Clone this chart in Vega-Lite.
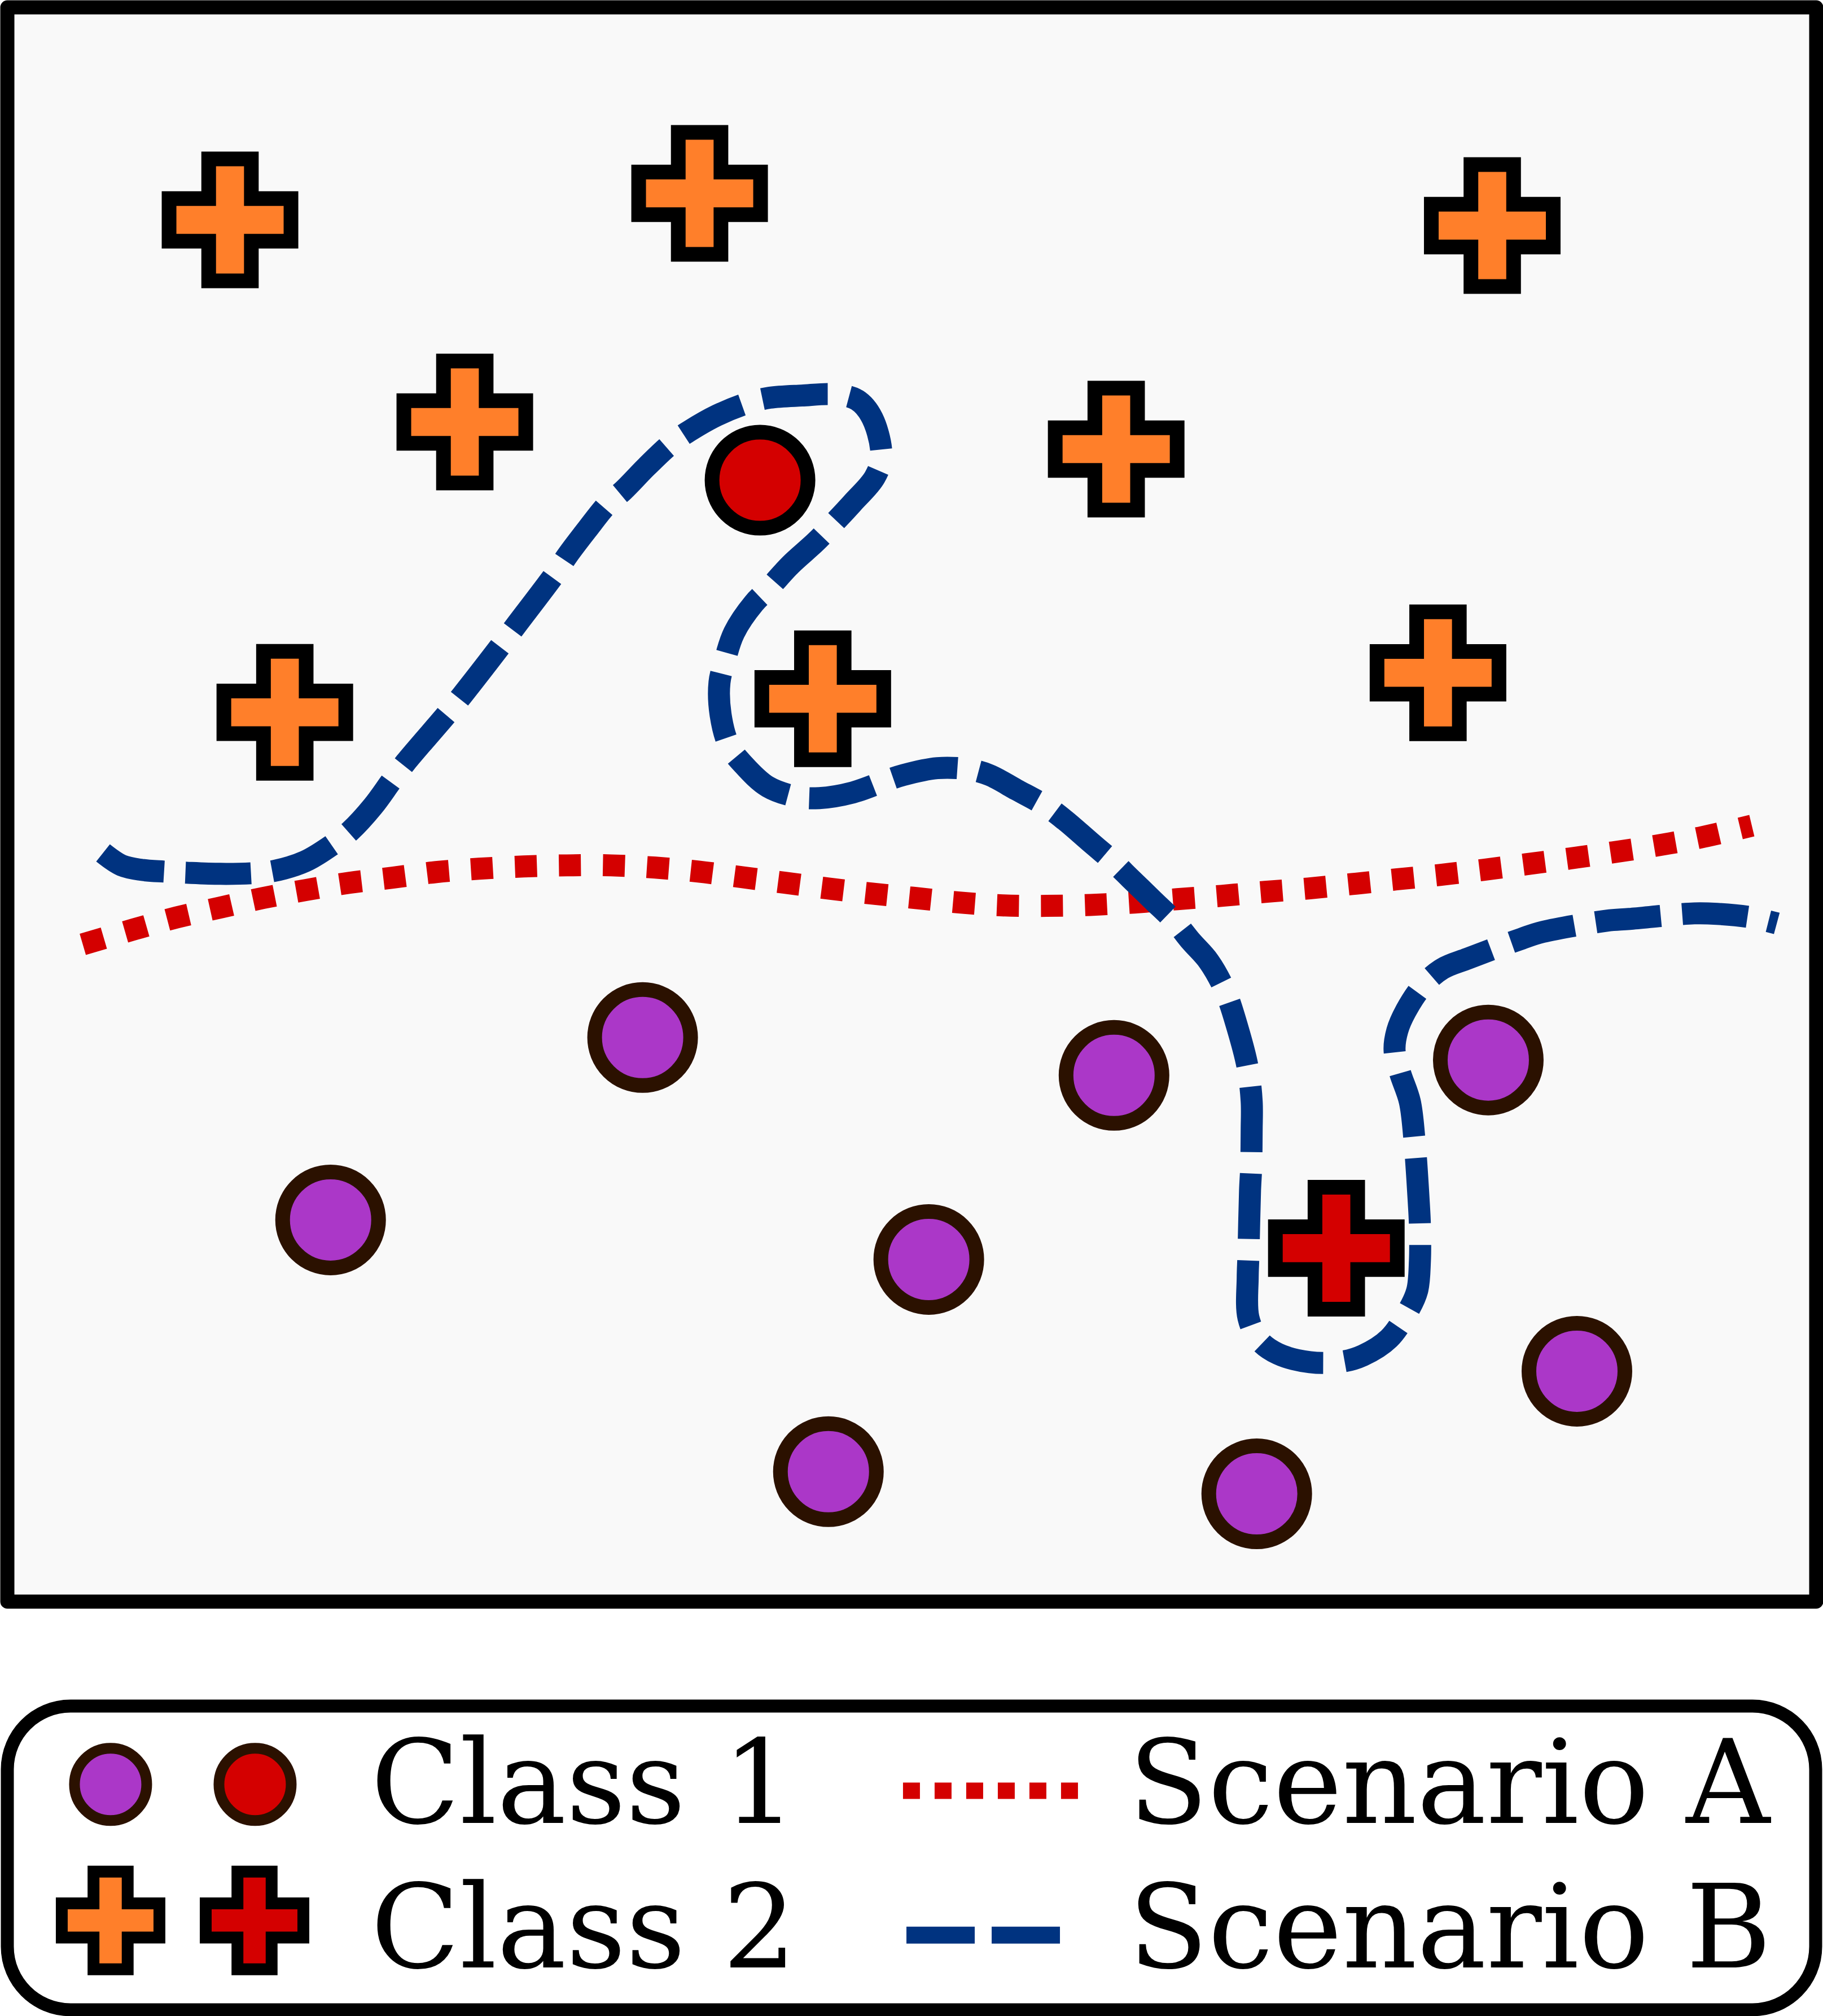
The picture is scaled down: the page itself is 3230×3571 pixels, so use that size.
{
  "$schema": "https://vega.github.io/schema/vega-lite/v6.json",
  "background": "#ffffff",
  "padding": 0,
  "spacing": 160,
  "resolve": {"scale": {"x": "independent", "y": "independent", "fill": "independent", "stroke": "independent"}},
  "datasets": {
    "points": [
      {"cls": "Class 2", "status": "regular", "x": 1.231, "y": 8.667},
      {"cls": "Class 2", "status": "regular", "x": 3.827, "y": 8.833},
      {"cls": "Class 2", "status": "regular", "x": 8.209, "y": 8.631},
      {"cls": "Class 2", "status": "regular", "x": 2.529, "y": 7.399},
      {"cls": "Class 2", "status": "regular", "x": 6.130, "y": 7.229},
      {"cls": "Class 2", "status": "regular", "x": 1.534, "y": 5.578},
      {"cls": "Class 2", "status": "regular", "x": 4.508, "y": 5.663},
      {"cls": "Class 2", "status": "regular", "x": 7.909, "y": 5.826},
      {"cls": "Class 2", "status": "outlier", "x": 7.347, "y": 2.217},
      {"cls": "Class 1", "status": "regular", "x": 3.512, "y": 3.538},
      {"cls": "Class 1", "status": "regular", "x": 6.118, "y": 3.301},
      {"cls": "Class 1", "status": "regular", "x": 8.187, "y": 3.397},
      {"cls": "Class 1", "status": "regular", "x": 1.787, "y": 2.394},
      {"cls": "Class 1", "status": "regular", "x": 5.094, "y": 2.146},
      {"cls": "Class 1", "status": "regular", "x": 8.677, "y": 1.445},
      {"cls": "Class 1", "status": "regular", "x": 4.539, "y": 0.815},
      {"cls": "Class 1", "status": "regular", "x": 6.907, "y": 0.676},
      {"cls": "Class 1", "status": "outlier", "x": 4.161, "y": 7.034}
    ],
    "scenarioA": [
      {"i": 0, "x": 0.417, "y": 4.123}, {"i": 1, "x": 0.704, "y": 4.218}, {"i": 2, "x": 0.938, "y": 4.292},
      {"i": 3, "x": 1.175, "y": 4.353}, {"i": 4, "x": 1.412, "y": 4.413}, {"i": 5, "x": 1.649, "y": 4.463},
      {"i": 6, "x": 1.890, "y": 4.509}, {"i": 7, "x": 2.130, "y": 4.541}, {"i": 8, "x": 2.370, "y": 4.576},
      {"i": 9, "x": 2.607, "y": 4.597}, {"i": 10, "x": 2.854, "y": 4.611}, {"i": 11, "x": 3.094, "y": 4.618},
      {"i": 12, "x": 3.337, "y": 4.618}, {"i": 13, "x": 3.581, "y": 4.604}, {"i": 14, "x": 3.821, "y": 4.579},
      {"i": 15, "x": 4.061, "y": 4.544}, {"i": 16, "x": 4.299, "y": 4.509}, {"i": 17, "x": 4.539, "y": 4.473},
      {"i": 18, "x": 4.782, "y": 4.441}, {"i": 19, "x": 5.023, "y": 4.413}, {"i": 20, "x": 5.263, "y": 4.385},
      {"i": 21, "x": 5.503, "y": 4.367}, {"i": 22, "x": 5.744, "y": 4.364}, {"i": 23, "x": 5.987, "y": 4.370},
      {"i": 24, "x": 6.230, "y": 4.385}, {"i": 25, "x": 6.467, "y": 4.406}, {"i": 26, "x": 6.711, "y": 4.427},
      {"i": 27, "x": 6.954, "y": 4.452}, {"i": 28, "x": 7.191, "y": 4.473}, {"i": 29, "x": 7.435, "y": 4.501},
      {"i": 30, "x": 7.678, "y": 4.530}, {"i": 31, "x": 7.919, "y": 4.558}, {"i": 32, "x": 8.159, "y": 4.590},
      {"i": 33, "x": 8.396, "y": 4.625}, {"i": 34, "x": 8.636, "y": 4.661}, {"i": 35, "x": 8.877, "y": 4.700},
      {"i": 36, "x": 9.117, "y": 4.742}, {"i": 37, "x": 9.357, "y": 4.792}, {"i": 38, "x": 9.644, "y": 4.867}
    ],
    "scenarioB": [
      {"i": 0, "x": 0.529, "y": 4.696}, {"i": 1, "x": 0.632, "y": 4.618}, {"i": 2, "x": 0.741, "y": 4.590},
      {"i": 3, "x": 0.869, "y": 4.579}, {"i": 4, "x": 0.991, "y": 4.572}, {"i": 5, "x": 1.178, "y": 4.565},
      {"i": 6, "x": 1.356, "y": 4.569}, {"i": 7, "x": 1.474, "y": 4.583}, {"i": 8, "x": 1.646, "y": 4.643},
      {"i": 9, "x": 1.799, "y": 4.749}, {"i": 10, "x": 1.896, "y": 4.834}, {"i": 11, "x": 2.020, "y": 4.987},
      {"i": 12, "x": 2.127, "y": 5.153}, {"i": 13, "x": 2.201, "y": 5.263}, {"i": 14, "x": 2.436, "y": 5.575},
      {"i": 15, "x": 2.514, "y": 5.684}, {"i": 16, "x": 2.735, "y": 6.007}, {"i": 17, "x": 2.810, "y": 6.120},
      {"i": 18, "x": 3.029, "y": 6.449}, {"i": 19, "x": 3.097, "y": 6.563}, {"i": 20, "x": 3.206, "y": 6.726},
      {"i": 21, "x": 3.319, "y": 6.885}, {"i": 22, "x": 3.406, "y": 6.970}, {"i": 23, "x": 3.534, "y": 7.119},
      {"i": 24, "x": 3.671, "y": 7.264}, {"i": 25, "x": 3.774, "y": 7.345}, {"i": 26, "x": 3.924, "y": 7.441},
      {"i": 27, "x": 4.096, "y": 7.519}, {"i": 28, "x": 4.214, "y": 7.551}, {"i": 29, "x": 4.392, "y": 7.565},
      {"i": 30, "x": 4.577, "y": 7.572}, {"i": 31, "x": 4.698, "y": 7.537}, {"i": 32, "x": 4.782, "y": 7.423},
      {"i": 33, "x": 4.832, "y": 7.183}, {"i": 34, "x": 4.795, "y": 7.052}, {"i": 35, "x": 4.673, "y": 6.892},
      {"i": 36, "x": 4.554, "y": 6.747}, {"i": 37, "x": 4.470, "y": 6.648}, {"i": 38, "x": 4.329, "y": 6.503},
      {"i": 39, "x": 4.211, "y": 6.357}, {"i": 40, "x": 4.127, "y": 6.262}, {"i": 41, "x": 4.018, "y": 6.078},
      {"i": 42, "x": 3.965, "y": 5.897}, {"i": 43, "x": 3.937, "y": 5.766}, {"i": 44, "x": 3.943, "y": 5.564},
      {"i": 45, "x": 3.990, "y": 5.369}, {"i": 46, "x": 4.068, "y": 5.252}, {"i": 47, "x": 4.205, "y": 5.111},
      {"i": 48, "x": 4.371, "y": 5.047}, {"i": 49, "x": 4.489, "y": 5.040}, {"i": 50, "x": 4.673, "y": 5.075},
      {"i": 51, "x": 4.842, "y": 5.143}, {"i": 52, "x": 4.954, "y": 5.185}, {"i": 53, "x": 5.141, "y": 5.228},
      {"i": 54, "x": 5.310, "y": 5.221}, {"i": 55, "x": 5.428, "y": 5.185}, {"i": 56, "x": 5.578, "y": 5.093},
      {"i": 57, "x": 5.746, "y": 4.987}, {"i": 58, "x": 5.846, "y": 4.902}, {"i": 59, "x": 5.984, "y": 4.767},
      {"i": 60, "x": 6.118, "y": 4.636}, {"i": 61, "x": 6.205, "y": 4.540}, {"i": 62, "x": 6.333, "y": 4.399},
      {"i": 63, "x": 6.461, "y": 4.257}, {"i": 64, "x": 6.542, "y": 4.144}, {"i": 65, "x": 6.642, "y": 4.016},
      {"i": 66, "x": 6.733, "y": 3.829}, {"i": 67, "x": 6.801, "y": 3.598}, {"i": 68, "x": 6.857, "y": 3.350},
      {"i": 69, "x": 6.879, "y": 3.138}, {"i": 70, "x": 6.879, "y": 2.961}, {"i": 71, "x": 6.876, "y": 2.720},
      {"i": 72, "x": 6.870, "y": 2.582}, {"i": 73, "x": 6.861, "y": 2.171}, {"i": 74, "x": 6.857, "y": 2.033},
      {"i": 75, "x": 6.861, "y": 1.781}, {"i": 76, "x": 6.920, "y": 1.640}, {"i": 77, "x": 7.023, "y": 1.555},
      {"i": 78, "x": 7.201, "y": 1.502}, {"i": 79, "x": 7.376, "y": 1.505}, {"i": 80, "x": 7.494, "y": 1.544},
      {"i": 81, "x": 7.638, "y": 1.650}, {"i": 82, "x": 7.744, "y": 1.824}, {"i": 83, "x": 7.794, "y": 1.951},
      {"i": 84, "x": 7.809, "y": 2.136}, {"i": 85, "x": 7.809, "y": 2.359}, {"i": 86, "x": 7.803, "y": 2.500},
      {"i": 87, "x": 7.778, "y": 2.908}, {"i": 88, "x": 7.753, "y": 3.138}, {"i": 89, "x": 7.700, "y": 3.315},
      {"i": 90, "x": 7.669, "y": 3.457}, {"i": 91, "x": 7.684, "y": 3.581}, {"i": 92, "x": 7.731, "y": 3.705},
      {"i": 93, "x": 7.825, "y": 3.864}, {"i": 94, "x": 7.934, "y": 3.970}, {"i": 95, "x": 8.075, "y": 4.034},
      {"i": 96, "x": 8.371, "y": 4.158}, {"i": 97, "x": 8.486, "y": 4.200}, {"i": 98, "x": 8.842, "y": 4.271},
      {"i": 99, "x": 8.967, "y": 4.282}, {"i": 100, "x": 9.326, "y": 4.317}, {"i": 101, "x": 9.451, "y": 4.314},
      {"i": 102, "x": 9.635, "y": 4.293}, {"i": 103, "x": 9.782, "y": 4.254}
    ],
    "legendSymbols": [
      {"cls": "Class 1", "status": "regular", "lx": 5.71, "ly": 74.2},
      {"cls": "Class 1", "status": "outlier", "lx": 13.70, "ly": 74.2},
      {"cls": "Class 2", "status": "regular", "lx": 5.71, "ly": 29.4},
      {"cls": "Class 2", "status": "outlier", "lx": 13.67, "ly": 29.4}
    ],
    "legendLines": [
      {"series": "Scenario A", "i": 0, "lx": 49.53, "ly": 72.1},
      {"series": "Scenario A", "i": 1, "lx": 59.27, "ly": 72.1},
      {"series": "Scenario B", "i": 0, "lx": 49.72, "ly": 24.6},
      {"series": "Scenario B", "i": 1, "lx": 58.21, "ly": 24.6}
    ],
    "legendLabels": [
      {"label": "Class 1", "lx": 20.1, "ly": 61.6},
      {"label": "Class 2", "lx": 20.1, "ly": 14.0},
      {"label": "Scenario A", "lx": 62.0, "ly": 61.6},
      {"label": "Scenario B", "lx": 62.0, "ly": 14.0}
    ]
  },
  "vconcat": [
    {
      "width": 3205,
      "height": 2824,
      "view": {"fill": "#f9f9f9", "stroke": "#000000", "strokeWidth": 25, "strokeJoin": "round"},
      "resolve": {"scale": {"fill": "independent", "stroke": "independent"}},
      "encoding": {
        "x": {"field": "x", "type": "quantitative", "scale": {"domain": [0, 10], "nice": false, "zero": false}, "axis": null},
        "y": {"field": "y", "type": "quantitative", "scale": {"domain": [0, 10], "nice": false, "zero": false}, "axis": null}
      },
      "layer": [
        {
          "data": {"name": "scenarioA"},
          "mark": {"type": "line", "color": "#d40000", "strokeWidth": 39, "strokeDash": [39, 39], "strokeCap": "butt", "interpolate": "catmull-rom"},
          "encoding": {"order": {"field": "i", "type": "quantitative"}}
        },
        {
          "data": {"name": "scenarioB"},
          "mark": {"type": "line", "color": "#003380", "strokeWidth": 39, "strokeDash": [116, 38], "strokeCap": "butt", "interpolate": "catmull-rom"},
          "encoding": {"order": {"field": "i", "type": "quantitative"}}
        },
        {
          "data": {"name": "points"},
          "transform": [{"filter": "datum.cls === 'Class 1'"}],
          "mark": {"type": "point", "shape": "circle", "filled": true, "opacity": 1, "size": 28900, "strokeWidth": 26},
          "encoding": {
            "fill": {"field": "status", "type": "nominal", "scale": {"domain": ["regular", "outlier"], "range": ["#ab37c8", "#d40000"]}, "legend": null},
            "stroke": {"field": "status", "type": "nominal", "scale": {"domain": ["regular", "outlier"], "range": ["#2b1100", "#000000"]}, "legend": null}
          }
        },
        {
          "data": {"name": "points"},
          "transform": [{"filter": "datum.cls === 'Class 2'"}],
          "mark": {"type": "point", "shape": "M-1,-0.35L-0.35,-0.35L-0.35,-1L0.35,-1L0.35,-0.35L1,-0.35L1,0.35L0.35,0.35L0.35,1L-0.35,1L-0.35,0.35L-1,0.35Z", "filled": true, "opacity": 1, "size": 46656, "strokeWidth": 26, "stroke": "#000000", "strokeJoin": "miter"},
          "encoding": {
            "fill": {"field": "status", "type": "nominal", "scale": {"domain": ["regular", "outlier"], "range": ["#ff7f2a", "#d40000"]}, "legend": null}
          }
        }
      ]
    },
    {
      "width": 3204,
      "height": 538,
      "view": {"fill": "#ffffff", "stroke": "#000000", "strokeWidth": 23, "cornerRadius": 112},
      "resolve": {"scale": {"fill": "independent", "stroke": "independent"}},
      "encoding": {
        "x": {"field": "lx", "type": "quantitative", "scale": {"domain": [0, 100], "nice": false, "zero": false}, "axis": null},
        "y": {"field": "ly", "type": "quantitative", "scale": {"domain": [0, 100], "nice": false, "zero": false}, "axis": null}
      },
      "layer": [
        {
          "data": {"name": "legendSymbols"},
          "transform": [{"filter": "datum.cls === 'Class 1'"}],
          "mark": {"type": "point", "shape": "circle", "filled": true, "opacity": 1, "size": 16384, "strokeWidth": 19, "stroke": "#2b1100"},
          "encoding": {
            "fill": {"field": "status", "type": "nominal", "scale": {"domain": ["regular", "outlier"], "range": ["#ab37c8", "#d40000"]}, "legend": null}
          }
        },
        {
          "data": {"name": "legendSymbols"},
          "transform": [{"filter": "datum.cls === 'Class 2'"}],
          "mark": {"type": "point", "shape": "M-1,-0.35L-0.35,-0.35L-0.35,-1L0.35,-1L0.35,-0.35L1,-0.35L1,0.35L0.35,0.35L0.35,1L-0.35,1L-0.35,0.35L-1,0.35Z", "filled": true, "opacity": 1, "size": 29929, "strokeWidth": 21, "stroke": "#000000", "strokeJoin": "miter"},
          "encoding": {
            "fill": {"field": "status", "type": "nominal", "scale": {"domain": ["regular", "outlier"], "range": ["#ff7f2a", "#d40000"]}, "legend": null}
          }
        },
        {
          "data": {"name": "legendLines"},
          "transform": [{"filter": "datum.series === 'Scenario A'"}],
          "mark": {"type": "line", "color": "#d40000", "strokeWidth": 29, "strokeDash": [30, 26], "strokeCap": "butt"},
          "encoding": {"order": {"field": "i", "type": "quantitative"}}
        },
        {
          "data": {"name": "legendLines"},
          "transform": [{"filter": "datum.series === 'Scenario B'"}],
          "mark": {"type": "line", "color": "#003380", "strokeWidth": 30, "strokeDash": [121, 30], "strokeCap": "butt"},
          "encoding": {"order": {"field": "i", "type": "quantitative"}}
        },
        {
          "data": {"name": "legendLabels"},
          "mark": {"type": "text", "align": "left", "baseline": "alphabetic", "font": "DejaVu Serif", "fontSize": 206, "color": "#000000"},
          "encoding": {"text": {"field": "label", "type": "nominal"}}
        }
      ]
    }
  ]
}
